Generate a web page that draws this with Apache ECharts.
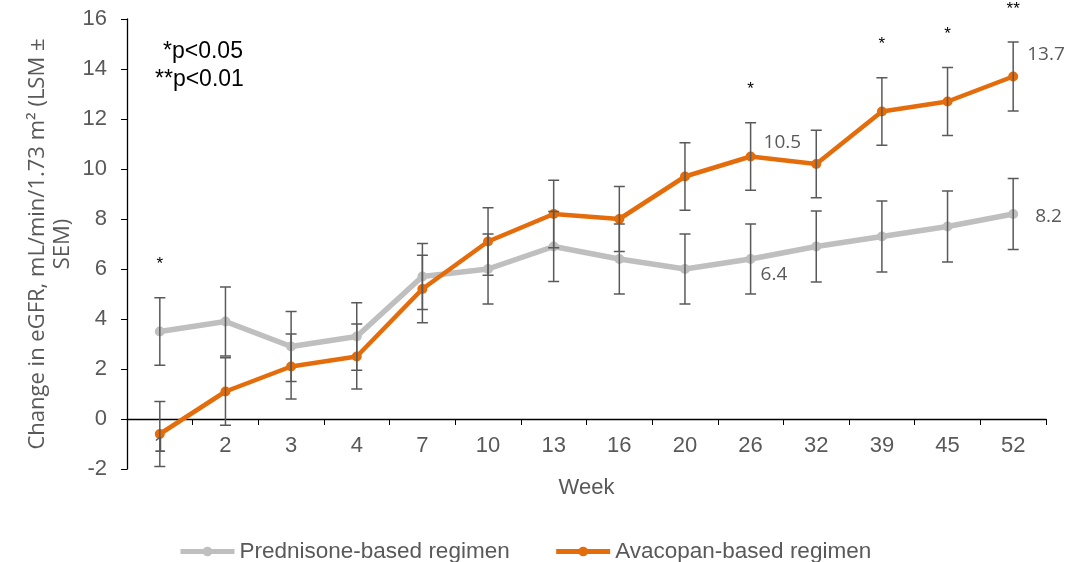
<!DOCTYPE html>
<html>
<head>
<meta charset="utf-8">
<script src="https://cdn.jsdelivr.net/npm/echarts@6/dist/echarts.min.js"></script>
<style>
  html, body { margin: 0; padding: 0; background: #fff; }
  #chart { width: 1089px; height: 562px; }
</style>
</head>
<body>
<div id="chart"></div>
<script>
let chart = echarts.init(document.getElementById('chart'));

// data
const weeks = ['1', '2', '3', '4', '7', '10', '13', '16', '20', '26', '32', '39', '45', '52'];
const prednisone = [3.5, 3.9, 2.9, 3.3, 5.7, 6.0, 6.9, 6.4, 6.0, 6.4, 6.9, 7.3, 7.7, 8.2];
const prednisoneSem = [1.35, 1.38, 1.4, 1.35, 1.32, 1.4, 1.4, 1.4, 1.4, 1.4, 1.42, 1.42, 1.42, 1.42];
const avacopan = [-0.6, 1.1, 2.1, 2.5, 5.2, 7.1, 8.2, 8.0, 9.7, 10.5, 10.2, 12.3, 12.7, 13.7];
const avacopanSem = [1.3, 1.35, 1.3, 1.3, 1.35, 1.35, 1.35, 1.3, 1.35, 1.35, 1.35, 1.35, 1.36, 1.38];
const significance = ['*', '', '', '', '', '', '', '', '', '*', '', '*', '*', '**'];
const prednisoneLabels = ['', '', '', '', '', '', '', '', '', '6.4', '', '', '', '8.2'];
const avacopanLabels = ['', '', '', '', '', '', '', '', '', '10.5', '', '', '', '13.7'];

const GRAY = '#BFBFBF';
const ORANGE = '#E46C0A';
const TEXT = '#595959';
const FONT = 'Liberation Sans';

const errData = (vals, sem) => vals.map((v, i) => [i, v - sem[i], v + sem[i]]);

const renderErrorBar = (params, api) => {
	const i = api.value(0);
	const lo = api.coord([i, api.value(1)]);
	const hi = api.coord([i, api.value(2)]);
	const hw = 5.5;
	const st = { stroke: TEXT, lineWidth: 1.5 };
	return {
		type: 'group',
		children: [
			{ type: 'line', shape: { x1: lo[0], y1: lo[1], x2: hi[0], y2: hi[1] }, style: st },
			{ type: 'line', shape: { x1: lo[0] - hw, y1: lo[1], x2: lo[0] + hw, y2: lo[1] }, style: st },
			{ type: 'line', shape: { x1: hi[0] - hw, y1: hi[1], x2: hi[0] + hw, y2: hi[1] }, style: st }
		]
	};
};

// label offsets for the few labelled points
const labelStyle = {
	'6.4': { offset: [0, 16] },
	'8.2': { offset: [12, 3] },
	'10.5': { offset: [3, -14] },
	'13.7': { offset: [4, -22] }
};

const withLabels = (vals, labels) => vals.map((v, i) => {
	if (!labels[i]) return v;
	return {
		value: v,
		label: {
			show: true,
			position: 'right',
			formatter: labels[i],
			offset: labelStyle[labels[i]].offset,
			color: TEXT,
			fontSize: 19,
			fontFamily: 'Open Sans'
		}
	};
});

const sigData = weeks.map((w, i) => [i, Math.max(prednisone[i] + prednisoneSem[i], avacopan[i] + avacopanSem[i])]);

let option = {
	animation: false,
	grid: { left: 127, right: 43, top: 19, bottom: 93 },
	legend: {
		data: ['Prednisone-based regimen', 'Avacopan-based regimen'],
		top: 535,
		left: 173,
		itemWidth: 54,
		itemHeight: 12,
		itemGap: 44,
		lineStyle: { width: 5 },
		textStyle: { color: TEXT, fontSize: 22.5, fontFamily: FONT }
	},
	xAxis: {
		type: 'category',
		data: weeks,
		name: 'Week',
		nameLocation: 'middle',
		nameGap: 8,
		nameTextStyle: { color: TEXT, fontSize: 22, fontFamily: FONT, verticalAlign: 'top' },
		axisLine: { onZero: true, lineStyle: { color: '#000', width: 1.3 } },
		axisTick: { show: true, length: 6, inside: false, lineStyle: { color: '#000' } },
		axisLabel: { show: false },
		splitLine: { show: false }
	},
	yAxis: {
		type: 'value',
		min: -2,
		max: 16,
		interval: 2,
		name: 'Change in eGFR, mL/min/1.73 m\u00B2 (LSM \u00B1\nSEM)',
		nameLocation: 'middle',
		nameGap: 52,
		nameMoveOverlap: false,
		nameTextStyle: { color: TEXT, fontSize: 22, fontFamily: 'Open Sans', lineHeight: 25, align: 'center' },
		axisLine: { show: true, lineStyle: { color: '#000', width: 1.3 } },
		axisTick: { show: true, length: 6, lineStyle: { color: '#000' } },
		axisLabel: { color: TEXT, fontSize: 22, fontFamily: FONT, margin: 20 },
		splitLine: { show: false }
	},
	graphic: [
		{ type: 'text', left: 163, top: 40, style: { text: '*p<0.05', fontSize: 23, fill: '#000', fontFamily: FONT } },
		{ type: 'text', left: 155, top: 68, style: { text: '**p<0.01', fontSize: 23, fill: '#000', fontFamily: FONT } }
	],
	series: [
		{
			name: 'Prednisone-based regimen',
			type: 'line',
			data: withLabels(prednisone, prednisoneLabels),
			symbol: 'circle',
			symbolSize: 10,
			lineStyle: { color: GRAY, width: 5.5 },
			itemStyle: { color: GRAY },
			z: 2
		},
		{
			name: 'Avacopan-based regimen',
			type: 'line',
			data: withLabels(avacopan, avacopanLabels),
			symbol: 'circle',
			symbolSize: 10,
			lineStyle: { color: ORANGE, width: 4.5 },
			itemStyle: { color: ORANGE },
			z: 3
		},
		{
			type: 'custom',
			renderItem: renderErrorBar,
			data: errData(prednisone, prednisoneSem),
			z: 4
		},
		{
			type: 'custom',
			renderItem: renderErrorBar,
			data: errData(avacopan, avacopanSem),
			z: 4
		},
		{
			// significance stars above the highest error bar
			type: 'custom',
			data: sigData,
			z: 5,
			renderItem: (params, api) => {
				const pt = api.coord([api.value(0), api.value(1)]);
				return {
					type: 'text',
					x: pt[0],
					y: pt[1] - 33,
					style: {
						text: significance[params.dataIndex],
						fontSize: 17,
						fill: '#000',
						fontFamily: FONT,
						align: 'center',
						verticalAlign: 'middle'
					}
				};
			}
		},
		{
			// week labels hang under the zero line
			type: 'custom',
			data: weeks.map((w, i) => [i, 0]),
			z: 5,
			renderItem: (params, api) => {
				const pt = api.coord([api.value(0), api.value(1)]);
				return {
					type: 'text',
					x: pt[0],
					y: pt[1] + 27,
					style: {
						text: weeks[params.dataIndex],
						fontSize: 22,
						fill: TEXT,
						fontFamily: FONT,
						align: 'center',
						verticalAlign: 'middle'
					}
				};
			}
		}
	]
};

chart.setOption(option);
</script>
</body>
</html>
